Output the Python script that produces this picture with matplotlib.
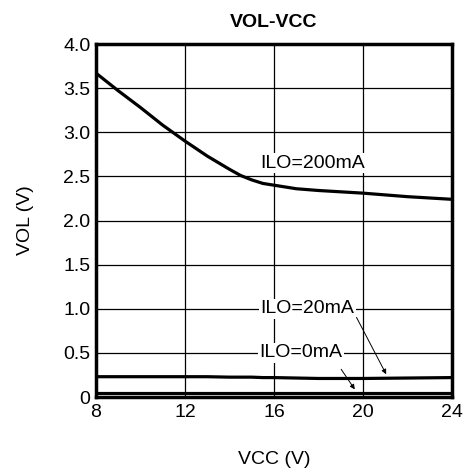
import matplotlib.pyplot as plt
import numpy as np

plt.rcParams['font.family'] = ['Liberation Sans', 'DejaVu Sans']

# VCC (V)
vcc = [8, 9, 10, 11, 12, 13, 14, 14.5, 15, 15.5, 16, 17, 18, 20, 22, 24]
# VOL (V) for each load current
vol_200ma = [3.67, 3.47, 3.28, 3.08, 2.90, 2.73, 2.58, 2.51, 2.46, 2.42, 2.40, 2.36, 2.34, 2.31, 2.27, 2.24]
vol_20ma = [0.23, 0.23, 0.23, 0.23, 0.23, 0.23, 0.225, 0.225, 0.225, 0.22, 0.22, 0.215, 0.21, 0.21, 0.215, 0.22]
vol_0ma = [0.04] * len(vcc)

xticks = [8, 12, 16, 20, 24]
yticks = [0, 0.5, 1.0, 1.5, 2.0, 2.5, 3.0, 3.5, 4.0]
ytick_labels = ['0', '0.5', '1.0', '1.5', '2.0', '2.5', '3.0', '3.5', '4.0']

fig = plt.figure(figsize=(4.68, 4.73), dpi=100)
ax = fig.add_axes([96 / 468, 1 - 397 / 473, 356 / 468, 353 / 473])

ax.plot(vcc, vol_200ma, color='black', lw=2.3, zorder=3)
ax.plot(vcc, vol_20ma, color='black', lw=2.3, zorder=3)
ax.plot(vcc, vol_0ma, color='black', lw=2.3, zorder=3)

ax.set_xlim(8, 24)
ax.set_ylim(0, 4)
ax.set_xticks(xticks)
ax.set_yticks(yticks, ytick_labels)
ax.grid(True, color='black', lw=0.9)
ax.tick_params(length=0, labelsize=14)
ax.tick_params(axis='x', pad=5)
ax.tick_params(axis='y', pad=4)
for s in ax.spines.values():
    s.set_linewidth(2.5)

bbox = dict(facecolor='white', edgecolor='none', pad=1)
ax.text(17.75, 2.65, 'ILO=200mA', ha='center', va='center', fontsize=14, bbox=bbox, zorder=4)
ax.text(17.5, 1.0, 'ILO=20mA', ha='center', va='center', fontsize=14, bbox=bbox, zorder=4)
ax.text(17.2, 0.5, 'ILO=0mA', ha='center', va='center', fontsize=14, bbox=bbox, zorder=4)

arrow = dict(arrowstyle='-|>', color='black', lw=0.7, mutation_scale=7)
ax.annotate('', xy=(21.1, 0.23), xytext=(19.65, 0.93), arrowprops=arrow, zorder=5)
ax.annotate('', xy=(19.7, 0.06), xytext=(18.95, 0.34), arrowprops=arrow, zorder=5)

ax.set_title('VOL-VCC', fontsize=14, fontweight='bold', pad=12)
ax.set_xlabel('VCC (V)', fontsize=14, labelpad=22)
ax.set_ylabel('VOL (V)', fontsize=14, labelpad=21)

fig.savefig('out.png')
